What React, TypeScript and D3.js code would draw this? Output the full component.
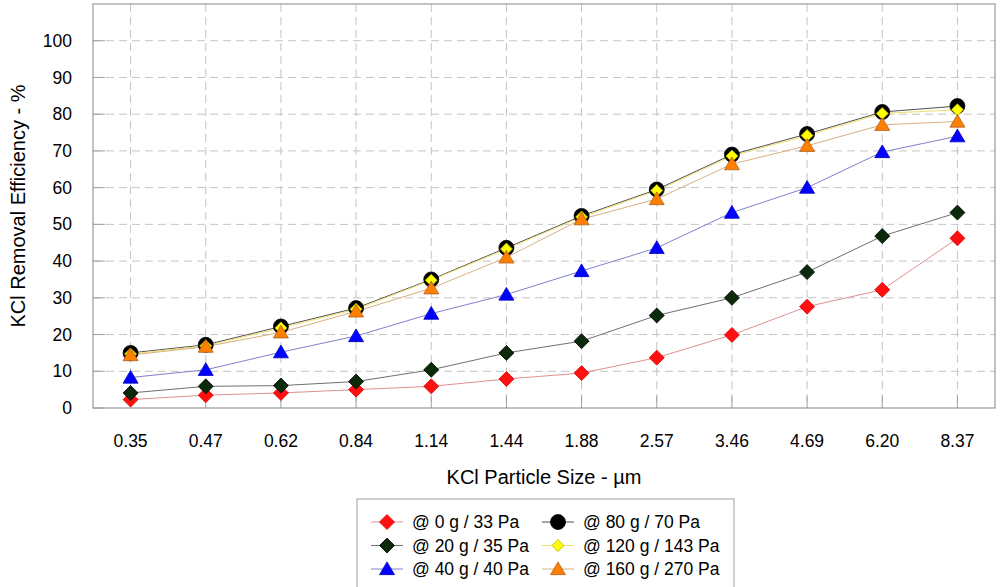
import * as d3 from "d3";
import { useEffect, useRef } from "react";

const sizes = ["0.35", "0.47", "0.62", "0.84", "1.14", "1.44", "1.88", "2.57", "3.46", "4.69", "6.20", "8.37"];

const eff0g = [2.3, 3.5, 4.1, 5.0, 5.9, 7.9, 9.5, 13.7, 19.9, 27.6, 32.2, 46.2];
const eff20g = [4.1, 5.9, 6.1, 7.2, 10.4, 15.0, 18.2, 25.2, 30.0, 37.0, 46.8, 53.2];
const eff40g = [8.3, 10.4, 15.2, 19.6, 25.7, 30.9, 37.3, 43.6, 53.2, 60.0, 69.7, 74.0];
const eff80g = [15.0, 17.2, 22.2, 27.2, 35.0, 43.6, 52.3, 59.5, 69.0, 74.6, 80.6, 82.2];
const eff120g = [14.7, 16.9, 21.8, 26.9, 34.8, 43.3, 52.0, 59.2, 68.6, 74.2, 80.2, 81.2];
const eff160g = [14.4, 16.7, 20.6, 26.3, 32.6, 41.0, 51.4, 56.9, 66.4, 71.4, 77.1, 78.0];

const yTicks = [0, 10, 20, 30, 40, 50, 60, 70, 80, 90, 100];

const series = [
    { name: "@ 0 g / 33 Pa", values: eff0g, shape: "diamond", fill: "#ff1010", stroke: "#e00000", line: "#e09090", size: 15 },
    { name: "@ 20 g / 35 Pa", values: eff20g, shape: "diamond", fill: "#0a2a0a", stroke: "#000000", line: "#707070", size: 15 },
    { name: "@ 40 g / 40 Pa", values: eff40g, shape: "triangle", fill: "#0000ff", stroke: "#0000c0", line: "#8080d0", size: 15 },
    { name: "@ 80 g / 70 Pa", values: eff80g, shape: "circle", fill: "#000000", stroke: "#000000", line: "#505050", size: 15 },
    { name: "@ 120 g / 143 Pa", values: eff120g, shape: "diamond", fill: "#ffff00", stroke: "#b0b000", line: "#f0e070", size: 12 },
    { name: "@ 160 g / 270 Pa", values: eff160g, shape: "triangle", fill: "#ff8000", stroke: "#b06020", line: "#d8b080", size: 15 },
];

const legendOrder = [0, 3, 1, 4, 2, 5];

const FONT = "Liberation Sans, Arial, sans-serif";

function markerPath(shape, size) {
    const h = size / 2;
    if (shape === "diamond") return `M0,${-h}L${h},0L0,${h}L${-h},0Z`;
    if (shape === "triangle") return `M0,${-h * 0.95}L${h},${h * 0.75}L${-h},${h * 0.75}Z`;
    return d3.symbol(d3.symbolCircle, Math.PI * h * h)();
}

const App = () => {
    const svgRef = useRef();
    const width = 1002;
    const height = 587;

    useEffect(() => {
        const margin = { top: 4, right: 7, bottom: 179, left: 93 };
        const innerWidth = width - margin.left - margin.right;
        const innerHeight = height - margin.top - margin.bottom;

        const svg = d3.select(svgRef.current).attr("width", width).attr("height", height);
        svg.selectAll("*").remove();
        svg.append("rect").attr("width", width).attr("height", height).attr("fill", "#fff");

        const g = svg.append("g").attr("transform", `translate(${margin.left},${margin.top})`);

        const x = d3.scaleBand().domain(sizes).range([0, innerWidth]).padding(0);
        const cx = (d) => x(d) + x.bandwidth() / 2;
        const y = d3.scaleLinear().domain([0, 110]).range([innerHeight, 0]);

        // grid
        g.append("g")
            .selectAll("line")
            .data(yTicks.filter((t) => t > 0))
            .join("line")
            .attr("x1", 0)
            .attr("x2", innerWidth)
            .attr("y1", (d) => y(d))
            .attr("y2", (d) => y(d))
            .attr("stroke", "#c4c4c4")
            .attr("stroke-dasharray", "8,5");

        g.append("g")
            .selectAll("line")
            .data(sizes)
            .join("line")
            .attr("x1", cx)
            .attr("x2", cx)
            .attr("y1", 0)
            .attr("y2", innerHeight)
            .attr("stroke", "#c4c4c4")
            .attr("stroke-dasharray", "8,5");

        // inner tick marks
        g.append("g")
            .selectAll("line")
            .data(yTicks)
            .join("line")
            .attr("x1", 0)
            .attr("x2", 12)
            .attr("y1", (d) => y(d))
            .attr("y2", (d) => y(d))
            .attr("stroke", "#a0a0a0");
        g.append("g")
            .selectAll("line")
            .data(sizes)
            .join("line")
            .attr("x1", cx)
            .attr("x2", cx)
            .attr("y1", innerHeight - 12)
            .attr("y2", innerHeight)
            .attr("stroke", "#a0a0a0");

        g.append("rect")
            .attr("width", innerWidth)
            .attr("height", innerHeight)
            .attr("fill", "none")
            .attr("stroke", "#9a9a9a")
            .attr("stroke-width", 1.2);

        // tick labels
        g.append("g")
            .selectAll("text")
            .data(yTicks)
            .join("text")
            .attr("x", -21)
            .attr("y", (d) => y(d))
            .attr("dy", "0.35em")
            .attr("text-anchor", "end")
            .attr("font-family", FONT)
            .attr("font-size", 17.5)
            .attr("fill", "#000")
            .text((d) => d);

        g.append("g")
            .selectAll("text")
            .data(sizes)
            .join("text")
            .attr("x", cx)
            .attr("y", innerHeight + 33)
            .attr("dy", "0.35em")
            .attr("text-anchor", "middle")
            .attr("font-family", FONT)
            .attr("font-size", 17.5)
            .attr("fill", "#000")
            .text((d) => d);

        // axis titles
        svg.append("text")
            .attr("x", margin.left + innerWidth / 2)
            .attr("y", 477)
            .attr("dy", "0.35em")
            .attr("text-anchor", "middle")
            .attr("font-family", FONT)
            .attr("font-size", 20)
            .text("KCl Particle Size - µm");

        svg.append("text")
            .attr("transform", `translate(18,${margin.top + innerHeight / 2}) rotate(-90)`)
            .attr("dy", "0.35em")
            .attr("text-anchor", "middle")
            .attr("font-family", FONT)
            .attr("font-size", 20)
            .text("KCl Removal Efficiency - %");

        // lines
        const line = d3
            .line()
            .x((d, i) => cx(sizes[i]))
            .y((d) => y(d));

        series.forEach((s) => {
            g.append("path")
                .datum(s.values)
                .attr("fill", "none")
                .attr("stroke", s.line)
                .attr("stroke-width", 1)
                .attr("d", line);
        });

        series.forEach((s) => {
            g.append("g")
                .selectAll("path")
                .data(s.values)
                .join("path")
                .attr("transform", (d, i) => `translate(${cx(sizes[i])},${y(d)})`)
                .attr("d", markerPath(s.shape, s.size))
                .attr("fill", s.fill)
                .attr("stroke", s.stroke)
                .attr("stroke-width", 0.8);
        });

        // legend
        const lg = svg.append("g");
        lg.append("rect")
            .attr("x", 357)
            .attr("y", 499)
            .attr("width", 377)
            .attr("height", 100)
            .attr("fill", "#fff")
            .attr("stroke", "#a0a0a0");

        legendOrder.forEach((si, k) => {
            const s = series[si];
            const col = k % 2;
            const row = Math.floor(k / 2);
            const lx = col === 0 ? 371 : 542;
            const ly = 522 + row * 23.5;
            lg.append("line")
                .attr("x1", lx)
                .attr("x2", lx + 32)
                .attr("y1", ly)
                .attr("y2", ly)
                .attr("stroke", s.line);
            lg.append("path")
                .attr("transform", `translate(${lx + 16},${ly})`)
                .attr("d", markerPath(s.shape, s.size))
                .attr("fill", s.fill)
                .attr("stroke", s.stroke)
                .attr("stroke-width", 0.8);
            lg.append("text")
                .attr("x", lx + 41)
                .attr("y", ly)
                .attr("dy", "0.35em")
                .attr("font-family", FONT)
                .attr("font-size", 17.5)
                .text(s.name);
        });
    }, []);

    return <svg ref={svgRef} style={{ position: "absolute", left: 0, top: 0, display: "block" }} />;
};

export default App;
